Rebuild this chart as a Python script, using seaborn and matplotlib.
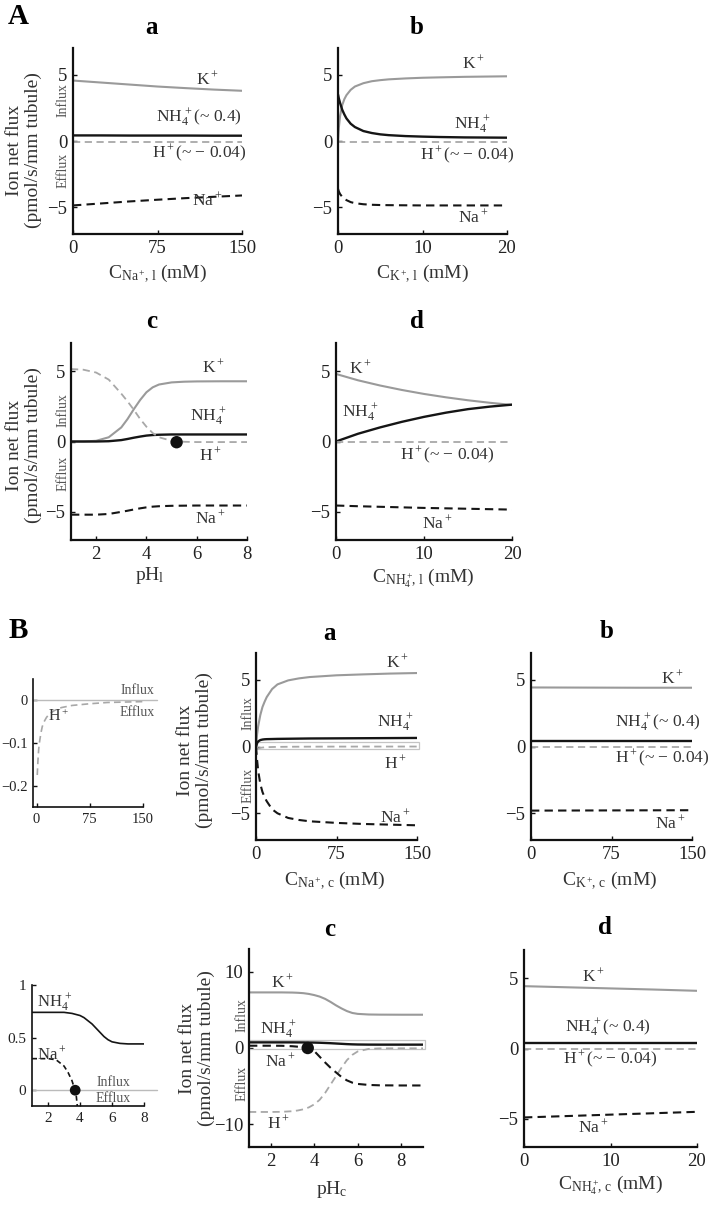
import numpy as np
import pandas as pd
import matplotlib
matplotlib.use("Agg")
import matplotlib.pyplot as plt
from matplotlib.patches import Rectangle
import seaborn as sns

# ---------------- data ----------------
# A-a : luminal Na+
x_Aa = [0, 25, 50, 75, 100, 125, 150]
k_Aa = [4.55, 4.4, 4.25, 4.1, 3.98, 3.87, 3.78]
nh4_Aa = [0.42, 0.42, 0.41, 0.41, 0.41, 0.40, 0.40]
h_Aa = [-0.04, -0.04, -0.04, -0.04, -0.04, -0.04, -0.04]
na_Aa = [-4.85, -4.7, -4.55, -4.42, -4.3, -4.2, -4.1]

# A-b : luminal K+
x_Ab = [0, 0.1, 0.25, 0.5, 0.75, 1, 1.5, 2, 3, 4, 5, 6, 8, 10, 12, 15, 17.5, 20]
k_Ab = [0.0, 1.0, 1.9, 2.7, 3.15, 3.45, 3.85, 4.1, 4.35, 4.5, 4.58, 4.64, 4.71, 4.76, 4.79, 4.83, 4.85, 4.87]
nh4_Ab = [3.5, 3.2, 2.85, 2.35, 2.0, 1.7, 1.3, 1.05, 0.75, 0.6, 0.5, 0.44, 0.37, 0.33, 0.3, 0.27, 0.26, 0.25]
h_Ab = [-0.04] * 18
na_Ab = [-3.6, -3.8, -4.0, -4.2, -4.35, -4.45, -4.6, -4.68, -4.76, -4.8, -4.82, -4.83, -4.84, -4.85, -4.85, -4.85, -4.85, -4.85]

# A-c : luminal pH
x_Ac = [1, 1.5, 2, 2.5, 3, 3.25, 3.5, 3.75, 4, 4.25, 4.5, 5, 5.5, 6, 7, 8]
k_Ac = [0.0, 0.0, 0.05, 0.3, 1.0, 1.6, 2.3, 2.95, 3.5, 3.85, 4.05, 4.2, 4.25, 4.27, 4.28, 4.28]
h_Ac = [5.15, 5.1, 4.9, 4.4, 3.4, 2.85, 2.25, 1.6, 1.05, 0.6, 0.3, 0.05, -0.02, -0.04, -0.04, -0.04]
nh4_Ac = [0.0, 0.0, 0.0, 0.02, 0.1, 0.18, 0.27, 0.35, 0.42, 0.46, 0.48, 0.5, 0.5, 0.5, 0.5, 0.5]
na_Ac = [-5.2, -5.2, -5.2, -5.15, -5.0, -4.92, -4.83, -4.75, -4.68, -4.63, -4.6, -4.57, -4.56, -4.55, -4.55, -4.55]
dot_Ac_x = [5.2]
dot_Ac_y = [-0.05]

# A-d : luminal NH4+
x_Ad = [0, 2.5, 5, 7.5, 10, 12.5, 15, 17.5, 20]
k_Ad = [4.8, 4.35, 3.98, 3.66, 3.38, 3.14, 2.93, 2.75, 2.6]
nh4_Ad = [0.0, 0.55, 1.0, 1.4, 1.75, 2.05, 2.3, 2.48, 2.62]
h_Ad = [-0.04] * 9
na_Ad = [-4.55, -4.6, -4.64, -4.68, -4.72, -4.75, -4.78, -4.81, -4.84]

# B inset 1 / B-a H+ flux
x_Bh = [1, 2, 3, 4, 6, 8, 10, 14, 18, 25, 35, 50, 75, 100, 125, 150]
h_Bh = [-0.175, -0.14, -0.115, -0.1, -0.078, -0.062, -0.052, -0.04, -0.032, -0.024,
        -0.017, -0.012, -0.008, -0.005, -0.004, -0.003]

# B-a : cellular Na+
x_Ba = [0, 1, 2, 4, 6, 8, 10, 15, 20, 30, 40, 50, 75, 100, 125, 150]
k_Ba = [0.0, 0.9, 1.5, 2.35, 2.95, 3.35, 3.7, 4.3, 4.65, 4.95, 5.1, 5.2, 5.33, 5.4, 5.46, 5.5]
nh4_Ba = [0.0, 0.25, 0.38, 0.48, 0.52, 0.54, 0.55, 0.56, 0.57, 0.58, 0.59, 0.6, 0.61, 0.62, 0.63, 0.64]
na_Ba = [0.0, -1.0, -1.8, -2.8, -3.4, -3.8, -4.1, -4.7, -5.0, -5.35, -5.5, -5.6, -5.72, -5.8, -5.85, -5.9]

# B-b : cellular K+
x_Bb = [0, 50, 100, 150]
k_Bb = [4.42, 4.41, 4.4, 4.4]
nh4_Bb = [0.42, 0.42, 0.42, 0.42]
h_Bb = [-0.04, -0.04, -0.04, -0.04]
na_Bb = [-4.8, -4.79, -4.78, -4.77]

# B inset 2 / B-c : cellular pH
x_Bc = [1, 2, 2.5, 3, 3.25, 3.5, 3.75, 4, 4.25, 4.5, 4.75, 5, 5.25, 5.5, 5.75, 6, 6.5, 7, 8, 9]
k_Bc = [7.3, 7.3, 7.3, 7.28, 7.25, 7.2, 7.1, 6.95, 6.75, 6.45, 6.05, 5.6, 5.2, 4.85, 4.6,
        4.48, 4.4, 4.38, 4.37, 4.37]
nh4_Bc = [0.74, 0.74, 0.74, 0.74, 0.735, 0.73, 0.72, 0.71, 0.69, 0.66, 0.63, 0.59, 0.55,
          0.51, 0.48, 0.46, 0.445, 0.44, 0.44, 0.44]
na_Bc = [0.3, 0.3, 0.29, 0.23, 0.17, 0.09, -0.03, -0.4, -1.15, -1.9, -2.6, -3.2, -3.8,
         -4.25, -4.55, -4.72, -4.85, -4.9, -4.92, -4.92]
h_Bc = [-8.4, -8.4, -8.38, -8.3, -8.2, -8.05, -7.8, -7.4, -6.8, -5.9, -4.8, -3.7, -2.6,
        -1.6, -0.9, -0.45, -0.12, -0.05, -0.04, -0.04]
dot_Bc_x = [3.7]
dot_Bc_y = [0.0]

# B-d : cellular NH4+
x_Bd = [0, 5, 10, 15, 20]
k_Bd = [4.43, 4.35, 4.27, 4.19, 4.1]
nh4_Bd = [0.4, 0.4, 0.4, 0.4, 0.4]
h_Bd = [-0.04, -0.04, -0.04, -0.04, -0.04]
na_Bd = [-4.9, -4.8, -4.7, -4.6, -4.5]

# ---------------- style ----------------
sns.set_style("ticks")
plt.rcParams["font.family"] = ["Liberation Serif", "DejaVu Serif"]
plt.rcParams["mathtext.fontset"] = "custom"
plt.rcParams["mathtext.rm"] = "Liberation Serif"
plt.rcParams["mathtext.it"] = "Liberation Serif:italic"
plt.rcParams["mathtext.bf"] = "Liberation Serif:bold"
plt.rcParams["mathtext.default"] = "regular"

W, H = 717, 1211
fig = plt.figure(figsize=(W / 100, H / 100), dpi=100)
fig.patch.set_facecolor("white")

GRAY = "#9a9a9a"
HGRAY = "#a8a8a8"
BLACK = "#151515"
TXT = "#333333"
DASH = (0, (4, 2.5))
LAB = 14          # axis label size
TICK = 13.5       # tick label size
ION = 12.5        # ion label size
TITLE = 18
NH4 = r"NH$_4^{\,+}$"


def add_ax(l, t, r, b):
    return fig.add_axes([l / W, 1 - b / H, (r - l) / W, (b - t) / H])


def put(txt, x, y, size=ION, **kw):
    kw.setdefault("color", TXT)
    fig.text(x / W, 1 - y / H, txt, ha="center", va="center", fontsize=size, **kw)


def title(txt, x, y):
    put(txt, x, y, size=TITLE, fontweight="bold", color="black")


def style(ax, xlim, ylim, xticks, yticks, xlabels=None, ylabels=None, size=TICK):
    ax.set_xlim(*xlim)
    ax.set_ylim(*ylim)
    ax.set_xticks(xticks)
    ax.set_yticks(yticks)
    if xlabels is not None:
        ax.set_xticklabels(xlabels)
    if ylabels is not None:
        ax.set_yticklabels(ylabels)
    sns.despine(ax=ax)
    for s in ["left", "bottom"]:
        ax.spines[s].set_linewidth(1.6)
        ax.spines[s].set_color("#111111")
    ax.tick_params(direction="in", length=3, width=1, labelsize=size, pad=4,
                   colors="#111111", labelcolor="#222222")
    ax.set_xlabel("")
    ax.set_ylabel("")
    ax.patch.set_alpha(0)


def four(ax, x, k, nh4, h, na):
    sns.lineplot(x=x, y=k, ax=ax, color=GRAY, lw=1.5)
    sns.lineplot(x=x, y=nh4, ax=ax, color=BLACK, lw=1.7)
    sns.lineplot(x=x, y=h, ax=ax, color=HGRAY, lw=1.3, linestyle=DASH)
    sns.lineplot(x=x, y=na, ax=ax, color=BLACK, lw=1.5, linestyle=DASH)


def flux_words(x, y_in, y_out):
    put("Influx", x, y_in, size=10, rotation=90, color="#555555")
    put("Efflux", x, y_out, size=10, rotation=90, color="#555555")


YLAB = "Ion net flux\n(pmol/s/mm tubule)"

# ---------------- panel A ----------------
put("A", 18, 17, size=21, fontweight="bold", color="black")

ax = add_ax(73, 48, 242, 234)
four(ax, x_Aa, k_Aa, nh4_Aa, h_Aa, na_Aa)
style(ax, (0, 150), (-7, 7), [0, 75, 150], [-5, 0, 5])
title("a", 152, 27)
put(YLAB, 24, 150, size=LAB, rotation=90, linespacing=1.1)
flux_words(63, 100, 170)
put(r"K$^+$", 207, 79)
put(NH4 + "(~ 0.4)", 199, 118)
put(r"H$^+$(~ − 0.04)", 199, 153)
put(r"Na$^+$", 207, 200)
put(r"C$_{\mathrm{Na}^+\!,\,\mathrm{l}}$ (mM)", 157, 274, size=LAB)

ax = add_ax(338, 48, 507, 234)
four(ax, x_Ab, k_Ab, nh4_Ab, h_Ab, na_Ab)
style(ax, (0, 20), (-7, 7), [0, 10, 20], [-5, 0, 5])
title("b", 417, 27)
put(r"K$^+$", 473, 63)
put(NH4, 472, 125)
put(r"H$^+$(~ − 0.04)", 467, 155)
put(r"Na$^+$", 473, 217)
put(r"C$_{\mathrm{K}^+\!,\,\mathrm{l}}$ (mM)", 422, 274, size=LAB)

ax = add_ax(71, 343, 247, 540)
four(ax, x_Ac, k_Ac, nh4_Ac, h_Ac, na_Ac)
sns.scatterplot(x=dot_Ac_x, y=dot_Ac_y, ax=ax, s=80, color="#111111", zorder=5,
                edgecolor="none", legend=False)
style(ax, (1, 8), (-7, 7), [2, 4, 6, 8], [-5, 0, 5])
title("c", 152, 322)
put(YLAB, 24, 445, size=LAB, rotation=90, linespacing=1.1)
flux_words(63, 410, 473)
put(r"K$^+$", 213, 367)
put(NH4, 208, 417)
put(r"H$^+$", 210, 455)
put(r"Na$^+$", 210, 518)
put(r"pH$_\mathrm{l}$", 150, 576, size=LAB)

ax = add_ax(336, 343, 512, 540)
four(ax, x_Ad, k_Ad, nh4_Ad, h_Ad, na_Ad)
style(ax, (0, 20), (-7, 7), [0, 10, 20], [-5, 0, 5])
title("d", 417, 322)
put(r"K$^+$", 360, 368)
put(NH4, 360, 413)
put(r"H$^+$(~ − 0.04)", 447, 455)
put(r"Na$^+$", 437, 523)
put(r"C$_{\mathrm{NH}_4^+\!,\,\mathrm{l}}$ (mM)", 423, 578, size=LAB)

# ---------------- panel B ----------------
put("B", 18, 630, size=21, fontweight="bold", color="black")

# inset 1
ax = add_ax(33, 679, 143, 807)
ax.plot([-5, 170], [0, 0], color="#bbbbbb", lw=1.0, clip_on=False)
sns.lineplot(x=x_Bh, y=h_Bh, ax=ax, color=HGRAY, lw=1.2, linestyle=DASH)
style(ax, (-5, 150), (-0.25, 0.05), [0, 75, 150], [-0.2, -0.1, 0],
      ylabels=["−0.2", "−0.1", "0"], size=10.5)
ax.spines["left"].set_linewidth(1.2)
ax.spines["bottom"].set_linewidth(1.2)
put("Influx", 137, 691, size=10, color="#555555")
put("Efflux", 137, 712, size=10, color="#555555")
put(r"H$^+$", 58, 717, size=11.5)

ax = add_ax(256, 653, 417, 840)
sns.lineplot(x=x_Ba, y=k_Ba, ax=ax, color=GRAY, lw=1.5)
sns.lineplot(x=x_Ba, y=nh4_Ba, ax=ax, color=BLACK, lw=1.7)
sns.lineplot(x=x_Bh, y=h_Bh, ax=ax, color=HGRAY, lw=1.3, linestyle=DASH)
sns.lineplot(x=x_Ba, y=na_Ba, ax=ax, color=BLACK, lw=1.5, linestyle=DASH)
ax.add_patch(Rectangle((1, -0.2), 151, 0.5, fill=False, ec="#c4c4c4", lw=0.9, clip_on=False))
style(ax, (0, 150), (-7, 7), [0, 75, 150], [-5, 0, 5])
title("a", 330, 633)
put(YLAB, 195, 750, size=LAB, rotation=90, linespacing=1.1)
flux_words(248, 713, 785)
put(r"K$^+$", 397, 662)
put(NH4, 395, 723)
put(r"H$^+$", 395, 763)
put(r"Na$^+$", 395, 817)
put(r"C$_{\mathrm{Na}^+\!,\,\mathrm{c}}$ (mM)", 335, 881, size=LAB)

ax = add_ax(531, 653, 692, 840)
four(ax, x_Bb, k_Bb, nh4_Bb, h_Bb, na_Bb)
style(ax, (0, 150), (-7, 7), [0, 75, 150], [-5, 0, 5])
title("b", 607, 632)
put(r"K$^+$", 672, 678)
put(NH4 + "(~ 0.4)", 658, 723)
put(r"H$^+$(~ − 0.04)", 662, 758)
put(r"Na$^+$", 670, 823)
put(r"C$_{\mathrm{K}^+\!,\,\mathrm{c}}$ (mM)", 610, 881, size=LAB)

# inset 2
ax = add_ax(32, 985, 144, 1106)
ax.plot([1, 8.8], [0, 0], color="#bbbbbb", lw=1.0, clip_on=False)
sns.lineplot(x=x_Bc, y=nh4_Bc, ax=ax, color=BLACK, lw=1.2)
sns.lineplot(x=x_Bc, y=na_Bc, ax=ax, color=BLACK, lw=1.2, linestyle=(0, (3, 2)))
sns.scatterplot(x=dot_Bc_x, y=dot_Bc_y, ax=ax, s=60, color="#111111", zorder=5,
                edgecolor="none", legend=False)
style(ax, (1, 8), (-0.15, 1), [2, 4, 6, 8], [0, 0.5, 1],
      ylabels=["0", "0.5", "1"], size=11)
ax.spines["left"].set_linewidth(1.2)
ax.spines["bottom"].set_linewidth(1.2)
put(NH4, 55, 1003, size=12)
put(r"Na$^+$", 52, 1054, size=12)
put("Influx", 113, 1083, size=10, color="#555555")
put("Efflux", 113, 1098, size=10, color="#555555")

ax = add_ax(249, 949, 423, 1147)
four(ax, x_Bc, k_Bc, nh4_Bc, h_Bc, na_Bc)
sns.scatterplot(x=dot_Bc_x, y=dot_Bc_y, ax=ax, s=80, color="#111111", zorder=5,
                edgecolor="none", legend=False)
ax.add_patch(Rectangle((1, -0.15), 8.1, 1.25, fill=False, ec="#c4c4c4", lw=0.9, clip_on=False))
style(ax, (1, 9), (-13, 13), [2, 4, 6, 8], [-10, 0, 10])
title("c", 330, 930)
put(YLAB, 197, 1048, size=LAB, rotation=90, linespacing=1.1)
flux_words(242, 1015, 1083)
put(r"K$^+$", 282, 982)
put(NH4, 278, 1030)
put(r"Na$^+$", 280, 1061)
put(r"H$^+$", 278, 1123)
put(r"pH$_\mathrm{c}$", 332, 1190, size=LAB)

ax = add_ax(524, 950, 697, 1147)
four(ax, x_Bd, k_Bd, nh4_Bd, h_Bd, na_Bd)
style(ax, (0, 20), (-7, 7), [0, 10, 20], [-5, 0, 5])
title("d", 605, 928)
put(r"K$^+$", 593, 976)
put(NH4 + "(~ 0.4)", 608, 1028)
put(r"H$^+$(~ − 0.04)", 610, 1059)
put(r"Na$^+$", 593, 1127)
put(r"C$_{\mathrm{NH}_4^+\!,\,\mathrm{c}}$ (mM)", 610, 1185, size=LAB)

fig.savefig("out.png", dpi=100, facecolor="white")
